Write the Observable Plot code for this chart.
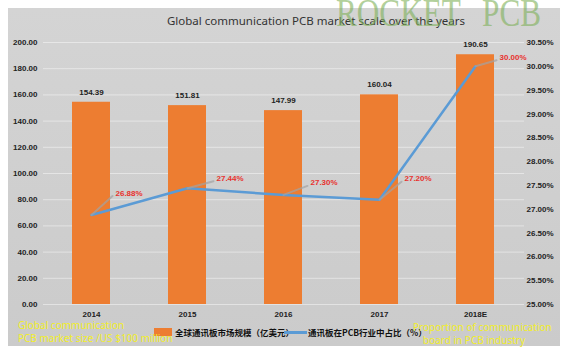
<!DOCTYPE html>
<html>
<head>
<meta charset="utf-8">
<script src="https://cdn.jsdelivr.net/npm/d3@7"></script>
<script src="https://cdn.jsdelivr.net/npm/@observablehq/plot@0.6"></script>
<style>
  html, body { margin: 0; padding: 0; background: #fff; }
  #page { position: relative; width: 566px; height: 353px; overflow: hidden; background: #fff; }
  #panel { position: absolute; left: 8px; top: 8px; width: 552px; height: 338px;
           background: linear-gradient(180deg, #d4d4d4 0%, #cbcbcb 100%); }
  #chart { position: absolute; left: 0; top: 0; }
  .abs { position: absolute; white-space: nowrap; }
  #title { left: 167px; top: 13px; font: 11.5px "Noto Sans", sans-serif; color: #333; }
  #watermark { left: 336px; top: -11px; font: 40px "Liberation Serif", serif; color: #7fb15a; opacity: 0.6;
               word-spacing: 18px; transform: scaleX(0.78); transform-origin: 0 0; }
  .yel { font: 10px "Noto Sans", sans-serif; color: #f2ee2a; line-height: 13px; }
  .leg { font: bold 8.5px "Noto Sans CJK SC", sans-serif; color: #111; }
</style>
</head>
<body>
<div id="page">
  <div id="panel"></div>
  <div id="title" class="abs">Global communication PCB market scale over the years</div>
  <div id="chart"></div>
  <div id="legend"></div>
  <div class="abs yel" style="left:18px; top:319px;">Global communication<br>PCB market size /US $100 million</div>
  <div class="abs yel" style="left:413px; top:321px;">Proportion of communication<br><span style="padding-left:10px">board in PCB industry</span></div>
  <div id="watermark" class="abs">ROCKET PCB</div>
</div>
<script>
// ---- data ----
const years = ["2014", "2015", "2016", "2017", "2018E"];
const marketSize = [154.39, 151.81, 147.99, 160.04, 190.65];   // 亿美元
const share = [26.88, 27.44, 27.30, 27.20, 30.00];             // %
const leftTicks = [0, 20, 40, 60, 80, 100, 120, 140, 160, 180, 200];
const rightTicks = [25, 25.5, 26, 26.5, 27, 27.5, 28, 28.5, 29, 29.5, 30, 30.5];
const seriesNames = ["全球通讯板市场规模（亿美元）", "通讯板在PCB行业中占比（%）"];

// ---- layout / style (not data) ----
const colors = {bar: "#ed7d31", line: "#5b9bd5"};
const labelOffsets = [[24, -22], [29, -10], [27, -12], [25, -21], [24, -9]];

const rows = years.map((y, i) => ({year: y, size: marketSize[i], share: share[i]}));
// map right axis (25%–30.5%) onto the left axis (0–200)
const rMin = 25, rMax = 30.5, lMax = 200;
const toLeft = p => (p - rMin) * lMax / (rMax - rMin);
const toRight = v => v * (rMax - rMin) / lMax + rMin;

const marks = [
  Plot.gridY(leftTicks, {stroke: "#ffffff", strokeOpacity: 0.45, strokeWidth: 1}),
  Plot.barY(rows, {x: "year", y: "size", fill: colors.bar}),
  Plot.text(rows, {x: "year", y: "size", text: d => d.size.toFixed(2), dy: -10,
                   fontSize: 8, fontWeight: "bold", fill: "#222"}),
  Plot.line(rows, {x: "year", y: d => toLeft(d.share), stroke: colors.line, strokeWidth: 2.5}),
  Plot.axisY(leftTicks, {anchor: "left", tickSize: 0, tickPadding: 6, tickFormat: d3.format(".2f"),
                         fontSize: 8, fontWeight: "bold", fill: "#222", label: null}),
  Plot.axisY(rightTicks.map(toLeft), {anchor: "right", tickSize: 0, tickPadding: 2,
                         tickFormat: v => toRight(v).toFixed(2) + "%",
                         fontSize: 8, fontWeight: "bold", fill: "#222", label: null}),
  Plot.axisX({tickSize: 0, tickPadding: 7, fontSize: 8, fontWeight: "bold", fill: "#222", label: null})
];
rows.forEach((r, i) => {
  const [dx, dy] = labelOffsets[i];
  const ex = dx - 3, ey = dy + 3;
  marks.push(Plot.vector([r], {
    x: "year", y: d => toLeft(d.share), anchor: "start",
    length: Math.hypot(ex, ey), rotate: Math.atan2(ex, -ey) * 180 / Math.PI,
    stroke: "#a3a3a3", strokeWidth: 2, strokeOpacity: 0.7,
    shape: {draw(context, l) { context.moveTo(0, 0); context.lineTo(0, -l); }}
  }));
  marks.push(Plot.text([r], {
    x: "year", y: d => toLeft(d.share), text: d => d.share.toFixed(2) + "%",
    dx, dy, textAnchor: "start", fontSize: 8, fontWeight: "bold", fill: "#e8322e"
  }));
});

const chart = Plot.plot({
  width: 566, height: 353,
  marginLeft: 43, marginRight: 42, marginTop: 42, marginBottom: 49,
  style: {background: "transparent", fontFamily: "'Liberation Sans', Arial, sans-serif", overflow: "visible"},
  x: {type: "band", domain: years, paddingInner: 0.6, paddingOuter: 0.3},
  y: {domain: [0, lMax]},
  marks
});
document.getElementById("chart").appendChild(chart);

// legend (HTML below/around the svg)
const leg = document.getElementById("legend");
leg.innerHTML = `
  <div class="abs" style="left:154px; top:328px; width:18px; height:8px; background:${colors.bar}"></div>
  <div class="abs leg" style="left:175px; top:326px;">${seriesNames[0]}</div>
  <div class="abs" style="left:284px; top:331px; width:23px; height:2.5px; background:${colors.line}"></div>
  <div class="abs leg" style="left:308px; top:326px;">${seriesNames[1]}</div>`;
</script>
</body>
</html>
